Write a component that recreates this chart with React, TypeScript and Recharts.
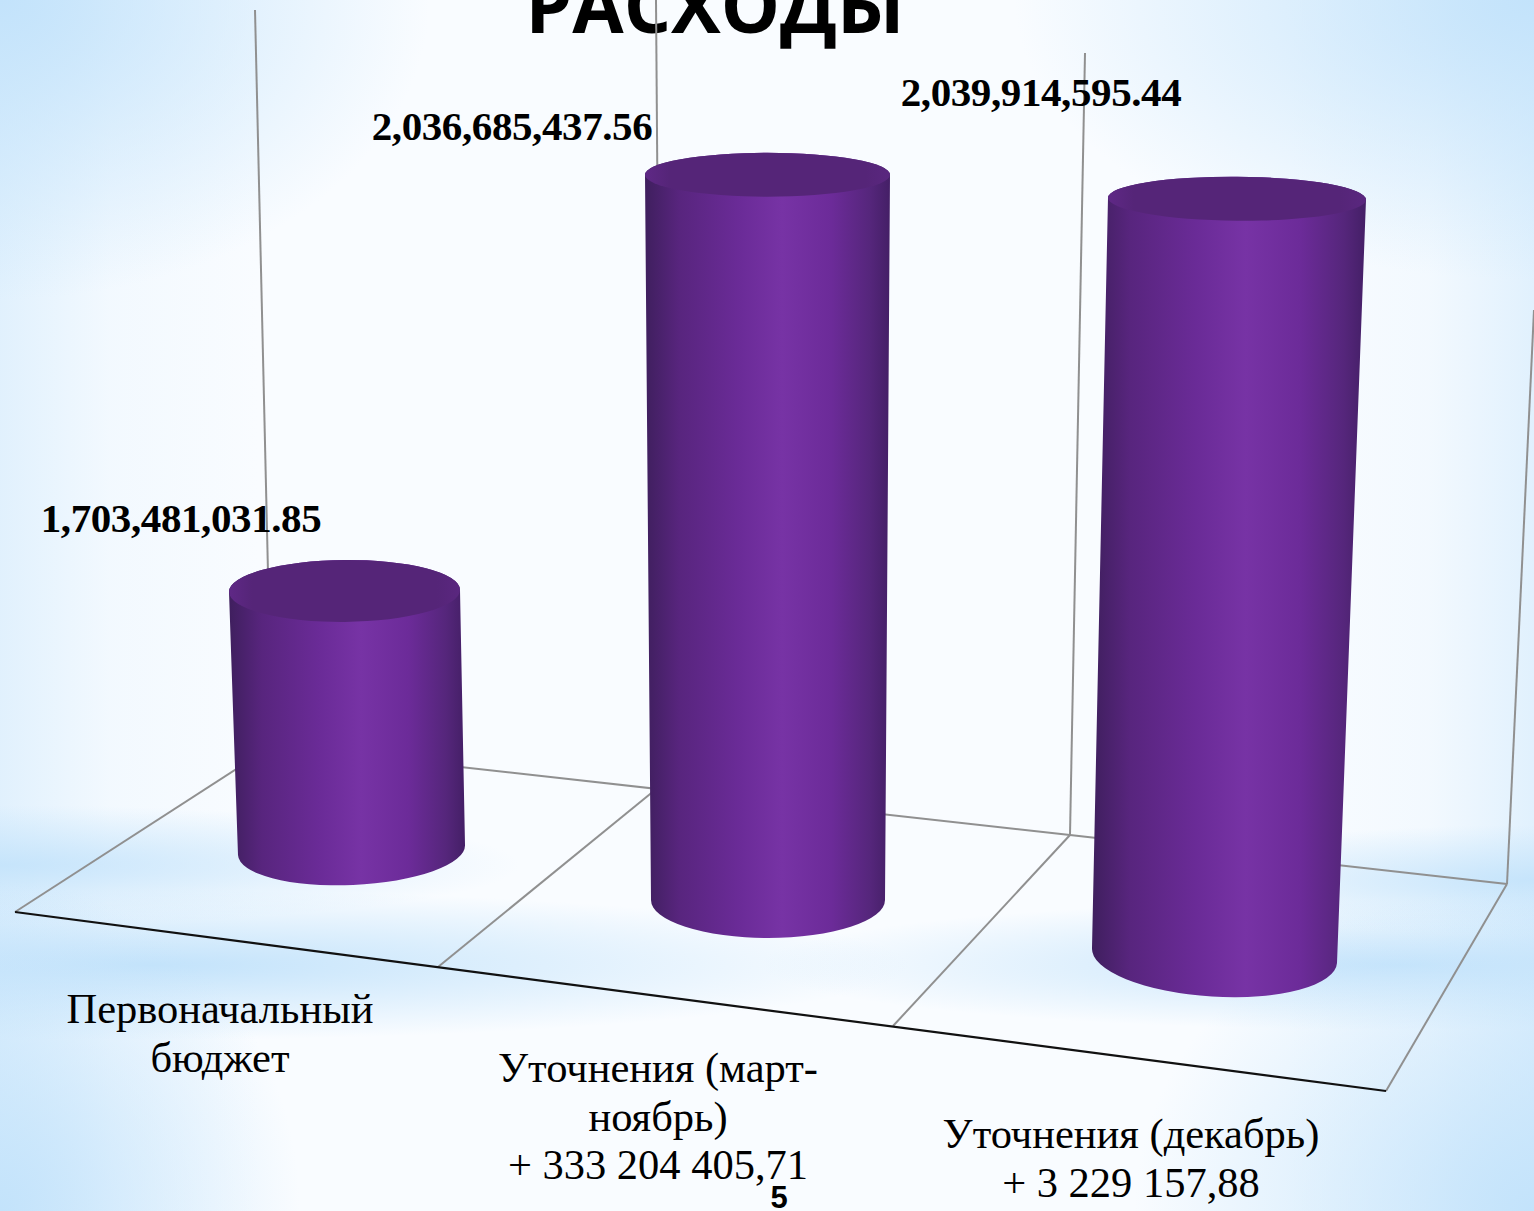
import { BarChart, Bar, XAxis, YAxis, LabelList } from 'recharts';

const categories = ['Первоначальный бюджет', 'Уточнения (март-ноябрь) + 333 204 405,71', 'Уточнения (декабрь) + 3 229 157,88'];
const categoryLines = [
    ['Первоначальный', 'бюджет'],
    ['Уточнения (март-', 'ноябрь)', '+ 333 204 405,71'],
    ['Уточнения (декабрь)', '+ 3 229 157,88'],
];
const expenses = [1703481031.85, 2036685437.56, 2039914595.44];

const data = categories.map((name, i) => ({ name, value: expenses[i] }));

const SERIF = '"Liberation Serif", serif';
const Y_DOMAIN = [1500000000, 2100000000];

// fake 3D perspective: how each category is moved off the flat scale
const BASE_SHIFT = [0, 50, 105.5];
const HEIGHT_SCALE = [1, 1.0613, 1.1008];
const BOTTOM = [
    { dx: 11.5, w: 227, tilt: -10, ry: 35 },
    { dx: -2, w: 234, tilt: 0, ry: 38 },
    { dx: 14.5, w: 245, tilt: 15, ry: 41 },
];
const TOP = [
    { dx: 4.5, w: 231, tilt: -2, ry: 31 },
    { dx: -2.5, w: 245, tilt: 0, ry: 22 },
    { dx: 37, w: 258, tilt: 2, ry: 22 },
];
const LABEL_OFFSET = [
    { dx: -159, dy: -59 },
    { dx: -258, dy: -27 },
    { dx: -159, dy: -57 },
];
const TICK_OFFSET = [
    { dx: -120, y: 1023 },
    { dx: -112, y: 1082 },
    { dx: -69, y: 1148 },
];

const WALL_LINES = [
    [255, 10, 272, 746],
    [656, 0, 662, 790],
    [1085, 53, 1070, 835],
    [1534, 310, 1507, 884],
    [272, 746, 1070, 835],
    [1070, 835, 1507, 884],
    [272, 746, 15, 912],
    [655, 790, 438, 967],
    [1070, 835, 893, 1026],
    [1507, 884, 1386, 1091],
];

const BLUE = '195,227,251';
const BACKGROUND = [
    `radial-gradient(ellipse 430px 300px at 0 0, rgba(${BLUE},1) 0%, rgba(${BLUE},0) 100%)`,
    `radial-gradient(ellipse 520px 280px at 100% 0, rgba(${BLUE},1) 0%, rgba(${BLUE},0) 100%)`,
    `radial-gradient(ellipse 300px 330px at 0 100%, rgba(${BLUE},1) 0%, rgba(${BLUE},0) 100%)`,
    `radial-gradient(ellipse 400px 330px at 100% 100%, rgba(${BLUE},1) 0%, rgba(${BLUE},0) 100%)`,
    `radial-gradient(ellipse 520px 60px at 0 865px, rgba(${BLUE},0.9) 0%, rgba(${BLUE},0) 100%)`,
    `radial-gradient(ellipse 400px 55px at 100% 880px, rgba(${BLUE},0.9) 0%, rgba(${BLUE},0) 100%)`,
    `radial-gradient(ellipse 760px 75px at 150px 965px, rgba(${BLUE},1) 0%, rgba(${BLUE},0) 100%)`,
    `radial-gradient(ellipse 640px 65px at 1400px 965px, rgba(${BLUE},0.95) 0%, rgba(${BLUE},0) 100%)`,
    `linear-gradient(to right, rgba(${BLUE},0.45) 0, rgba(${BLUE},0.12) 110px, rgba(${BLUE},0) 260px, rgba(${BLUE},0) 1290px, rgba(${BLUE},0.12) 1430px, rgba(${BLUE},0.45) 100%)`,
].join(', ');

function Scene() {
    return (
        <g>
            <defs>
                <linearGradient id="bodyFill" x1="0" y1="0" x2="1" y2="0">
                    <stop offset="0" stopColor="#3f1f5e" />
                    <stop offset="0.14" stopColor="#58257e" />
                    <stop offset="0.38" stopColor="#6a2b97" />
                    <stop offset="0.56" stopColor="#7733a5" />
                    <stop offset="0.76" stopColor="#6c2b99" />
                    <stop offset="0.92" stopColor="#55267b" />
                    <stop offset="1" stopColor="#441f66" />
                </linearGradient>
                <linearGradient id="capFill" x1="0" y1="0" x2="1" y2="0">
                    <stop offset="0" stopColor="#5f2886" />
                    <stop offset="0.1" stopColor="#552578" />
                    <stop offset="0.9" stopColor="#552578" />
                    <stop offset="1" stopColor="#5a277f" />
                </linearGradient>
            </defs>
            <text x={715} y={33} textAnchor="middle" fontFamily='"Open Sans", sans-serif' fontWeight={700} fontSize={74.5} fill="#000">
                РАСХОДЫ
            </text>
            {WALL_LINES.map(([x1, y1, x2, y2], i) => (
                <line key={i} x1={x1} y1={y1} x2={x2} y2={y2} stroke="#909090" strokeWidth={2} />
            ))}
            <line x1={15} y1={912} x2={1386} y2={1091} stroke="#111" strokeWidth={2.2} />
        </g>
    );
}

function Cylinder(props: any) {
    const { x, y, width, height, index } = props;
    const cx = x + width / 2;
    const b = BOTTOM[index];
    const t = TOP[index];
    const baseY = y + height + BASE_SHIFT[index];
    const topY = baseY - height * HEIGHT_SCALE[index];

    const bl = [cx + b.dx - b.w / 2, baseY - b.tilt / 2];
    const br = [cx + b.dx + b.w / 2, baseY + b.tilt / 2];
    const tl = [cx + t.dx - t.w / 2, topY - t.tilt / 2];
    const tr = [cx + t.dx + t.w / 2, topY + t.tilt / 2];
    const bRot = (Math.atan2(b.tilt, b.w) * 180) / Math.PI;
    const tRot = (Math.atan2(t.tilt, t.w) * 180) / Math.PI;

    const body = `M${tl} L${bl} A${b.w / 2} ${b.ry} ${bRot} 0 0 ${br} L${tr} A${t.w / 2} ${t.ry} ${tRot} 0 0 ${tl} Z`;
    const cap = `M${tl} A${t.w / 2} ${t.ry} ${tRot} 0 0 ${tr} A${t.w / 2} ${t.ry} ${tRot} 0 0 ${tl} Z`;

    return (
        <g>
            <path d={body} fill="url(#bodyFill)" />
            <path d={cap} fill="url(#capFill)" />
        </g>
    );
}

function ValueLabel(props: any) {
    const { x, y, width, value, index } = props;
    const o = LABEL_OFFSET[index];
    return (
        <text x={x + width / 2 + o.dx} y={y + o.dy} textAnchor="middle" fontFamily={SERIF} fontWeight={700} fontSize={41} letterSpacing={-0.4} fill="#000">
            {Number(value).toLocaleString('en-US', { minimumFractionDigits: 2 })}
        </text>
    );
}

function CategoryTick(props: any) {
    const { x, index } = props;
    const o = TICK_OFFSET[index];
    return (
        <text textAnchor="middle" fontFamily={SERIF} fontSize={42.5} fill="#000">
            {categoryLines[index].map((line, i) => (
                <tspan key={i} x={x + o.dx} y={o.y + i * 48.5}>{line}</tspan>
            ))}
        </text>
    );
}

export default function App() {
    return (
        <div style={{ position: 'absolute', left: 0, top: 0, width: 1534, height: 1211, overflow: 'hidden', backgroundColor: '#f9fcff', backgroundImage: BACKGROUND }}>
            <BarChart width={1534} height={1211} data={data} margin={{ top: 86, right: 119, bottom: 331, left: 125 }} barSize={232}>
                <Scene />
                <XAxis dataKey="name" height={30} axisLine={false} tickLine={false} interval={0} tick={CategoryTick} />
                <YAxis hide domain={Y_DOMAIN} />
                <Bar dataKey="value" shape={Cylinder} isAnimationActive={false}>
                    <LabelList dataKey="value" content={ValueLabel} />
                </Bar>
                <text x={779} y={1208} textAnchor="middle" fontFamily='"Liberation Sans", sans-serif' fontWeight={700} fontSize={31} fill="#000">5</text>
            </BarChart>
        </div>
    );
}
